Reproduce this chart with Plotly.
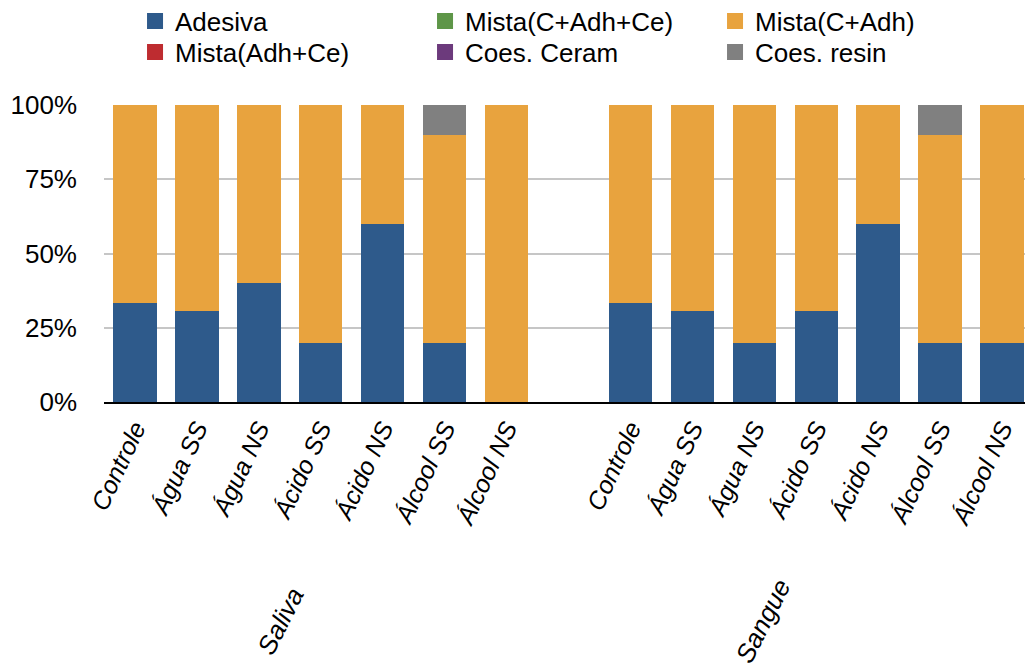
import plotly.graph_objects as go

# ---- data ----
groups = ["Saliva", "Sangue"]
categories = ["Controle", "Água SS", "Água NS", "Ácido SS", "Ácido NS", "Álcool SS", "Álcool NS"]

series_names = ["Adesiva", "Mista(C+Adh+Ce)", "Mista(C+Adh)", "Mista(Adh+Ce)", "Coes. Ceram", "Coes. resin"]
series_colors = ["#2e5a8b", "#5e9648", "#e8a33e", "#be2c30", "#6c3a7c", "#808080"]

saliva_adesiva = [33.3, 30.8, 40, 20, 60, 20, 0]
saliva_c_adh_ce = [0, 0, 0, 0, 0, 0, 0]
saliva_c_adh = [66.7, 69.2, 60, 80, 40, 70, 100]
saliva_adh_ce = [0, 0, 0, 0, 0, 0, 0]
saliva_ceram = [0, 0, 0, 0, 0, 0, 0]
saliva_resin = [0, 0, 0, 0, 0, 10, 0]

sangue_adesiva = [33.3, 30.8, 20, 30.8, 60, 20, 20]
sangue_c_adh_ce = [0, 0, 0, 0, 0, 0, 0]
sangue_c_adh = [66.7, 69.2, 80, 69.2, 40, 70, 80]
sangue_adh_ce = [0, 0, 0, 0, 0, 0, 0]
sangue_ceram = [0, 0, 0, 0, 0, 0, 0]
sangue_resin = [0, 0, 0, 0, 0, 10, 0]

y_ticks = [0, 25, 50, 75, 100]
y_tick_labels = ["0%", "25%", "50%", "75%", "100%"]

# ---- build ----
n = len(categories)
pos = list(range(n)) + [i + n + 1 for i in range(n)]  # one empty slot between groups
series_values = [
    saliva_adesiva + sangue_adesiva,
    saliva_c_adh_ce + sangue_c_adh_ce,
    saliva_c_adh + sangue_c_adh,
    saliva_adh_ce + sangue_adh_ce,
    saliva_ceram + sangue_ceram,
    saliva_resin + sangue_resin,
]

FONT = "Liberation Sans, Arial, Helvetica, sans-serif"
FS = 26
fig = go.Figure()
for name, col, vals in zip(series_names, series_colors, series_values):
    fig.add_trace(go.Bar(x=pos, y=vals, name=name, marker=dict(color=col, line=dict(width=0)),
                         width=0.7, showlegend=False))
# legend entries: first three in row 1 (legend), last three in row 2 (legend2)
for i, (name, col) in enumerate(zip(series_names, series_colors)):
    fig.add_trace(go.Scatter(x=[None], y=[None], mode="markers", name=name,
                             legend="legend" if i < 3 else "legend2",
                             marker=dict(symbol="square", size=22, color=col)))

group_centers = [(n - 1) / 2, n + 1 + (n - 1) / 2]
label_offsets = [-0.65, -0.86]
for g, c, off in zip(groups, group_centers, label_offsets):
    fig.add_annotation(x=c + off, xref="x", y=-0.737, yref="paper", text=g, showarrow=False,
                       textangle=-63, font=dict(family=FONT, size=FS, color="black", style="italic"),
                       xanchor="center", yanchor="middle")

legend_common = dict(orientation="h", traceorder="normal", x=0.0334, xref="paper", xanchor="left",
                     yref="paper", yanchor="middle",
                     font=dict(family=FONT, size=FS, color="black"),
                     entrywidth=245, tracegroupgap=0, itemclick=False, bgcolor="rgba(0,0,0,0)")

fig.update_layout(
    width=1025, height=663,
    margin=dict(l=96, r=0, t=97, b=269, autoexpand=False),
    barmode="stack",
    plot_bgcolor="white", paper_bgcolor="white",
    font=dict(family=FONT, size=FS, color="black"),
    legend=dict(legend_common, y=1.2828),
    legend2=dict(legend_common, y=1.1785),
    xaxis=dict(range=[-0.5, 2 * n + 0.5], tickvals=pos, ticktext=categories * 2,
               tickangle=-65, tickfont=dict(family=FONT, size=25, color="black", style="italic"),
               showgrid=False, zeroline=False, showline=True, linecolor="black", linewidth=2,
               ticks="", ticklabelstandoff=0, automargin=False),
    yaxis=dict(range=[0, 100], tickvals=y_ticks, ticktext=y_tick_labels,
               tickfont=dict(family=FONT, size=FS, color="black"),
               showgrid=True, gridcolor="#c6c6c6", gridwidth=1.5, zeroline=False,
               showline=False, ticks="", ticklabelstandoff=26, automargin=False),
)

fig.write_html("out.html")
